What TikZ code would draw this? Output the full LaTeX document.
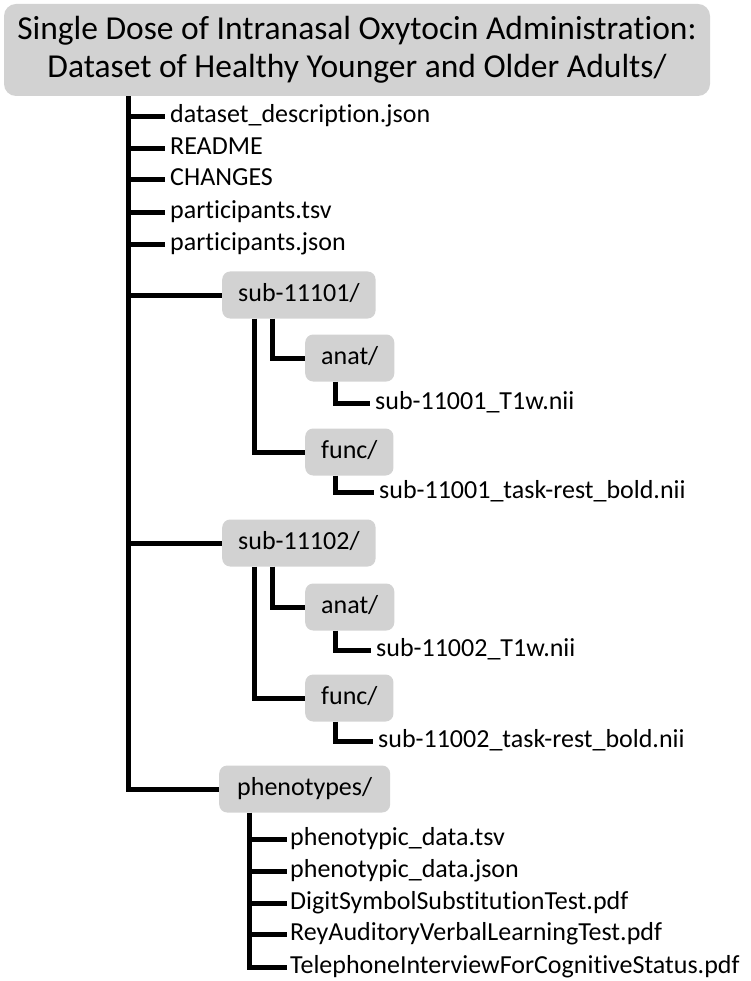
\documentclass[tikz,border=0pt]{standalone}
\usepackage{fontspec}
\setmainfont{Carlito}[Ligatures=NoCommon]
\usetikzlibrary{calc}
\definecolor{boxgray}{RGB}{210,210,210}
\tikzset{
  branch/.style={line width=5pt, line join=miter},
  folder/.style={fill=boxgray, rounded corners=8pt, anchor=west, minimum height=47pt,
    inner xsep=16pt, text height=18pt, text depth=6pt, font=\fontsize{26}{31}\selectfont},
  file/.style={anchor=west, inner sep=0pt, text height=18pt, text depth=6pt,
    font=\fontsize{26}{31}\selectfont},
}

\begin{document}
\begin{tikzpicture}[x=1pt,y=-1pt]
  \useasboundingbox (0,0) rectangle (750,981);
  \node[fill=boxgray, rounded corners=12pt, minimum width=706pt, minimum height=92pt,
    align=center, font=\fontsize{33.5}{38}\selectfont] (root) at (357,50)
    {Single Dose of Intranasal Oxytocin Administration:\\Dataset of Healthy Younger and Older Adults/};
  \coordinate (trunk) at (128,0);

  \node[file] (desc) at (170,117) {dataset\_description.json};
  \node[file] (readme) at (170,149) {README};
  \node[file] (changes) at (170,180) {CHANGES};
  \node[file] (ptsv) at (170,213) {participants.tsv};
  \node[file] (pjson) at (170,245) {participants.json};

  \node[folder] (sub1) at (222,295) {sub-11101/};
  \node[folder] (anat1) at (305,358) {anat/};
  \node[file] (t1w1) at (375,403) {sub-11001\_T1w.nii};
  \node[folder] (func1) at (305,452) {func/};
  \node[file] (bold1) at (379,492) {sub-11001\_task-rest\_bold.nii};

  \node[folder] (sub2) at (222,543) {sub-11102/};
  \node[folder] (anat2) at (305,607) {anat/};
  \node[file] (t1w2) at (376,650) {sub-11002\_T1w.nii};
  \node[folder] (func2) at (305,698) {func/};
  \node[file] (bold2) at (378,741) {sub-11002\_task-rest\_bold.nii};

  \node[folder, inner xsep=18pt] (phen) at (219,789) {phenotypes/};
  \node[file] (ptsv2) at (290,839) {phenotypic\_data.tsv};
  \node[file] (pjson2) at (290,871) {phenotypic\_data.json};
  \node[file] (digit) at (290,903) {DigitSymbolSubstitutionTest.pdf};
  \node[file] (rey) at (290,934) {ReyAuditoryVerbalLearningTest.pdf};
  \node[file] (tele) at (290,967) {TelephoneInterviewForCognitiveStatus.pdf};

  \draw[branch] (root.south -| trunk) |- (phen.west);
  \foreach \f in {desc,readme,changes,ptsv,pjson}
    \draw[branch] (trunk |- \f.west) -- ([xshift=-5pt]\f.west);
  \foreach \s in {sub1,sub2}
    \draw[branch] (trunk |- \s.west) -- (\s.west);
  \foreach \s/\a/\t/\f/\b in {sub1/anat1/t1w1/func1/bold1,sub2/anat2/t1w2/func2/bold2}{
    \draw[branch] ([xshift=50pt]\s.south west) |- (\a.west);
    \draw[branch] ([xshift=32pt]\s.south west) |- (\f.west);
    \draw[branch] ([xshift=30pt]\a.south west) |- ([xshift=-5pt]\t.west);
    \draw[branch] ([xshift=30pt]\f.south west) |- ([xshift=-5pt]\b.west);
  }
  \draw[branch] ([xshift=30pt]phen.south west) |- ([xshift=-3pt]tele.west);
  \foreach \p in {ptsv2,pjson2,digit,rey}
    \draw[branch] ([xshift=30pt]phen.south west |- \p.west) -- ([xshift=-3pt]\p.west);
\end{tikzpicture}
\end{document}
